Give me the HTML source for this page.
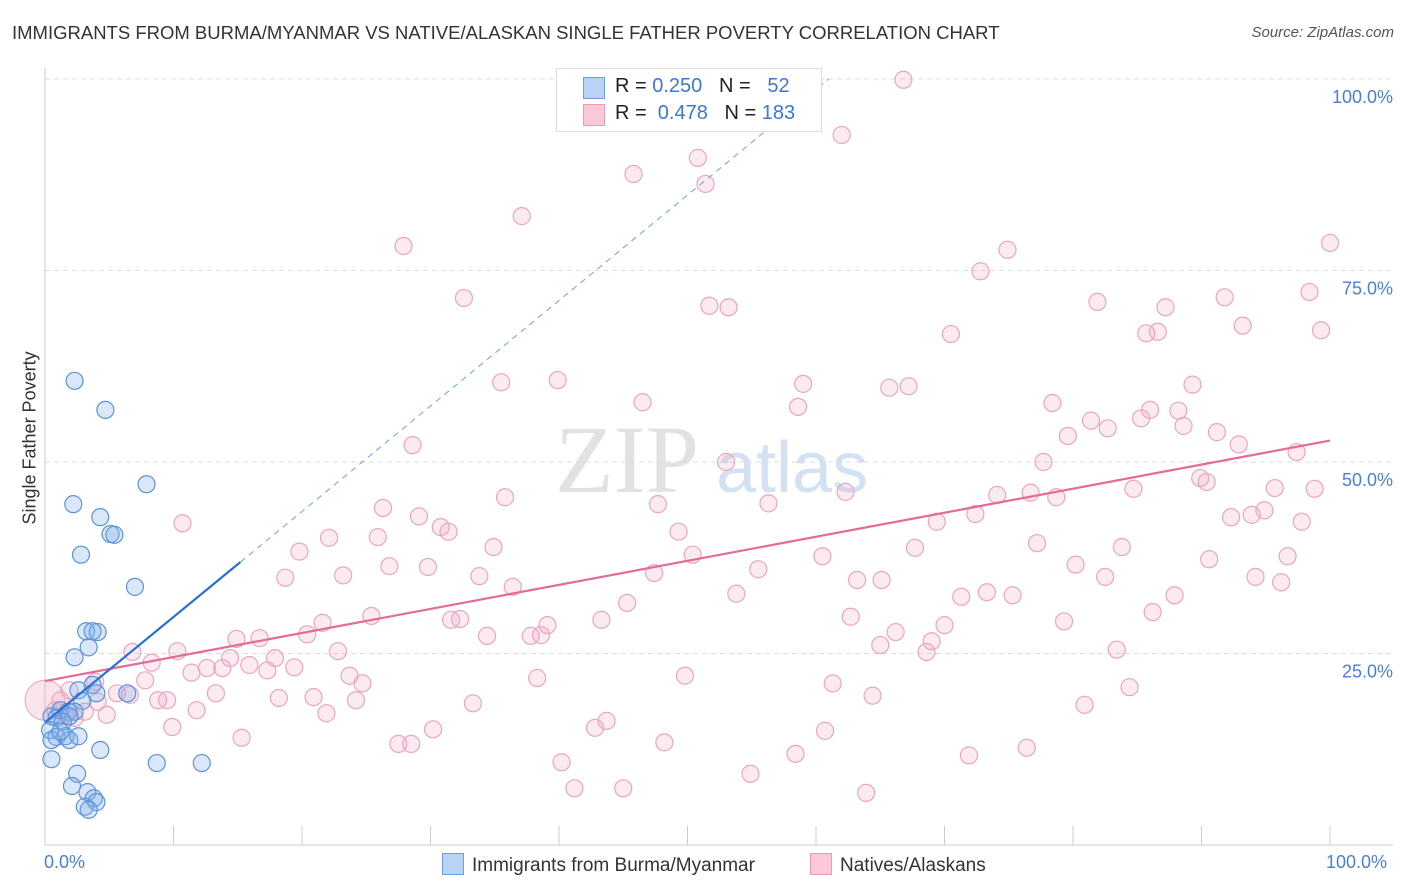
<!DOCTYPE html>
<html><head><meta charset="utf-8"><style>
body{margin:0;background:#fff;font-family:"Liberation Sans",sans-serif;}
#wrap{position:relative;width:1406px;height:892px;overflow:hidden;}
.t{position:absolute;white-space:nowrap;}
</style></head><body>
<div id="wrap">
<div class="t" style="left:12px;top:22px;font-size:18.5px;color:#333;">IMMIGRANTS FROM BURMA/MYANMAR VS NATIVE/ALASKAN SINGLE FATHER POVERTY CORRELATION CHART</div>
<div class="t" style="right:12px;top:24px;font-size:15px;color:#555;font-style:italic;">Source: ZipAtlas.com</div>
<svg id="plot" width="1406" height="892" style="position:absolute;left:0;top:0"></svg>
</div>
<script>
const yTicks=[25,50,75,100];
const yTickLabels=["25.0%","50.0%","75.0%","100.0%"];
const blueX=[2.3,4.7,7.9,2.2,4.3,5.1,5.4,2.8,7.0,3.2,4.1,3.7,3.4,2.3,3.7,2.6,6.4,4.0,2.9,0.5,1.2,1.8,2.3,0.9,1.4,1.9,0.4,0.9,0.5,1.6,1.9,2.6,1.2,4.3,0.5,8.7,12.2,2.5,2.1,3.3,3.8,4.0,3.1,3.4];
const blueY=[60.6,56.8,47.1,44.5,42.8,40.6,40.5,37.9,33.7,27.9,27.8,27.9,25.8,24.5,20.9,20.2,19.8,19.8,18.8,16.8,17.6,17.4,17.4,16.6,16.1,16.8,15.0,14.1,13.7,14.2,13.7,14.2,14.8,12.4,11.2,10.7,10.7,9.3,7.7,6.9,6.1,5.6,5.0,4.6];
const pinkX=[66.8,62.0,50.8,45.8,51.4,37.1,27.9,100,74.9,72.8,32.6,81.9,87.2,91.8,98.4,51.7,53.2,70.5,85.7,86.6,93.2,99.3,35.5,39.9,59.0,65.7,67.2,89.3,46.5,58.6,78.4,86.0,88.2,81.4,85.3,88.6,79.6,82.7,91.2,28.6,92.9,53.0,77.7,97.4,89.9,90.4,62.3,84.7,95.7,98.8,35.8,56.3,47.7,74.1,76.7,78.7,26.3,29.1,72.4,92.3,93.9,94.9,10.7,69.4,97.8,30.8,31.4,22.1,25.9,49.3,77.2,19.8,34.9,67.7,83.8,50.4,60.5,96.7,90.6,26.8,29.8,80.2,55.5,47.4,18.7,23.2,33.8,63.2,65.1,94.2,82.5,96.2,36.4,53.8,71.3,73.3,75.3,87.9,45.3,86.2,25.4,31.6,32.3,62.7,43.3,21.6,70.0,79.3,39.1,20.4,34.4,37.8,38.6,66.2,14.9,16.7,65.0,69.0,10.3,6.8,22.8,68.6,83.4,8.3,14.4,17.9,15.9,19.4,13.8,12.6,11.4,17.3,23.7,38.3,49.8,24.7,7.8,3.9,5.6,13.3,6.6,8.8,9.5,18.2,20.9,24.2,33.3,64.4,61.3,84.4,80.9,4.1,11.8,21.9,4.8,9.9,30.2,42.8,43.7,60.7,15.3,27.5,28.5,48.2,76.4,71.9,58.4,40.2,54.9,41.2,45.0,63.9,0.8,1.6,2.3,3.1,1.2,1.9];
const pinkY=[99.9,92.7,89.7,87.6,86.3,82.1,78.2,78.6,77.7,74.9,71.4,70.9,70.2,71.5,72.2,70.4,70.2,66.7,66.8,67.0,67.8,67.2,60.4,60.7,60.2,59.7,59.9,60.1,57.8,57.2,57.7,56.8,56.7,55.4,55.7,54.7,53.4,54.4,53.9,52.2,52.3,50.0,50.0,51.3,47.9,47.4,46.1,46.5,46.6,46.5,45.4,44.6,44.5,45.7,46.0,45.4,44.0,42.9,43.2,42.8,43.1,43.7,42.0,42.2,42.2,41.5,40.9,40.1,40.2,40.9,39.4,38.3,38.9,38.8,38.9,37.9,37.7,37.7,37.3,36.4,36.3,36.6,36.0,35.5,34.9,35.2,35.1,34.6,34.6,35.0,35.0,34.3,33.7,32.8,32.4,33.0,32.6,32.6,31.6,30.4,29.9,29.4,29.5,29.8,29.4,29.0,28.7,29.2,28.7,27.5,27.3,27.3,27.4,27.8,26.9,27.0,26.1,26.6,25.3,25.2,25.3,25.2,25.5,23.8,24.4,24.4,23.5,23.2,23.1,23.1,22.5,22.8,22.1,21.8,22.1,21.1,21.5,21.3,19.8,19.8,19.6,18.9,18.9,19.2,19.3,18.9,18.5,19.5,21.1,20.6,18.3,18.7,17.6,17.2,17.0,15.4,15.1,15.3,16.2,14.9,14.0,13.2,13.2,13.4,12.7,11.7,11.9,10.8,9.3,7.4,7.4,6.8,17.6,17.0,16.6,17.4,18.9,20.2];
const pinkTrend=[21.4,52.8];
const blueTrend=[16.0,1.377];

const svg=document.getElementById('plot');const NS='http://www.w3.org/2000/svg';
const X=v=>45+v*12.85, Y=v=>845-v*7.66;
function mk(t,a){const e=document.createElementNS(NS,t);for(const k in a)e.setAttribute(k,a[k]);svg.appendChild(e);return e;}
const wm=mk('text',{x:555,y:492,'font-size':96,'font-family':'Liberation Serif, serif',fill:'#e2e2e2'});wm.textContent='ZIP';


const wm2=mk('text',{x:716,y:492,'font-size':72,'font-family':'Liberation Sans, sans-serif',fill:'#d3e2f3'});wm2.textContent='atlas';


yTicks.forEach((t,i)=>{
 const g=mk('line',{x1:45,x2:1393,y1:Y(t),y2:Y(t),stroke:'#ddd','stroke-dasharray':'5,4'});
 
 
 const l=mk('text',{x:1393,y:Y(t)+24,'text-anchor':'end','font-size':18,fill:'#4a7fd4'});l.textContent=yTickLabels[i];
 
 
});
const ax=mk('line',{x1:45,x2:1393,y1:845,y2:845,stroke:'#ccc'});


const ay=mk('line',{x1:45,x2:45,y1:68,y2:845,stroke:'#ccc'});


for(let i=0;i<=10;i++){const tk=mk('line',{x1:X(i*10),x2:X(i*10),y1:826,y2:845,stroke:'#ccc'});
 
 }
const big=mk('circle',{cx:X(0),cy:Y(18.9),r:20,fill:'rgba(240,150,180,0.25)',stroke:'#eba5bf'});


pinkX.forEach((x,i)=>{const c=mk('circle',{cx:X(x),cy:Y(pinkY[i]),r:8.5,fill:'rgba(242,160,190,0.22)',stroke:'#eba5bf','stroke-width':1.2});
 
 });
blueX.forEach((x,i)=>{const c=mk('circle',{cx:X(x),cy:Y(blueY[i]),r:8.5,fill:'rgba(130,175,235,0.3)',stroke:'#5b93d8','stroke-width':1.2});
 
 });
const pl=mk('line',{x1:X(0),y1:Y(pinkTrend[0]),x2:X(100),y2:Y(pinkTrend[1]),stroke:'#e56a98','stroke-width':2.2});


const bx=15.2, bEnd=(100-blueTrend[0])/blueTrend[1];
const bl=mk('line',{x1:X(0),y1:Y(blueTrend[0]),x2:X(bx),y2:Y(blueTrend[0]+blueTrend[1]*bx),stroke:'#2a6fd6','stroke-width':2.2});


const bd=mk('line',{x1:X(bx),y1:Y(blueTrend[0]+blueTrend[1]*bx),x2:X(bEnd),y2:Y(100),stroke:'#6f9fe0','stroke-width':1,'stroke-dasharray':'6,5'});


</script>
<div class="t" style="left:-40px;top:444px;font-size:18px;color:#333;transform:rotate(-90deg);width:140px;text-align:center;">Single Father Poverty</div>
<div class="t" style="left:44px;top:852px;font-size:18px;color:#4a7fd4;">0.0%</div>
<div class="t" style="left:1326px;top:852px;font-size:18px;color:#4a7fd4;">100.0%</div>
<div style="position:absolute;left:556px;top:68px;width:264px;height:62px;border:1px solid #ddd;background:#fff;font-size:20px;">
 <div style="position:absolute;left:26px;top:8px;width:20px;height:20px;background:#b8d3f5;border:1px solid #6b9de0"></div>
 <div class="t" style="left:58px;top:6px;color:#222">R = <span style="color:#3a78d4">0.250</span>&nbsp;&nbsp;&nbsp;N = &nbsp;&nbsp;<span style="color:#3a78d4">52</span></div>
 <div style="position:absolute;left:26px;top:35px;width:20px;height:20px;background:#fac8d8;border:1px solid #ec9ab6"></div>
 <div class="t" style="left:58px;top:33px;color:#222">R = &nbsp;<span style="color:#3a78d4">0.478</span>&nbsp;&nbsp;&nbsp;N = <span style="color:#3a78d4">183</span></div>
</div>
<div style="position:absolute;left:442px;top:853px;font-size:19px;color:#333;">
 <span style="display:inline-block;width:20px;height:20px;background:#b8d3f5;border:1px solid #6b9de0;vertical-align:-4px;margin-right:8px"></span>Immigrants from Burma/Myanmar</div>
<div style="position:absolute;left:810px;top:853px;font-size:19px;color:#333;">
 <span style="display:inline-block;width:20px;height:20px;background:#fac8d8;border:1px solid #ec9ab6;vertical-align:-4px;margin-right:8px"></span>Natives/Alaskans</div>
</body></html>
